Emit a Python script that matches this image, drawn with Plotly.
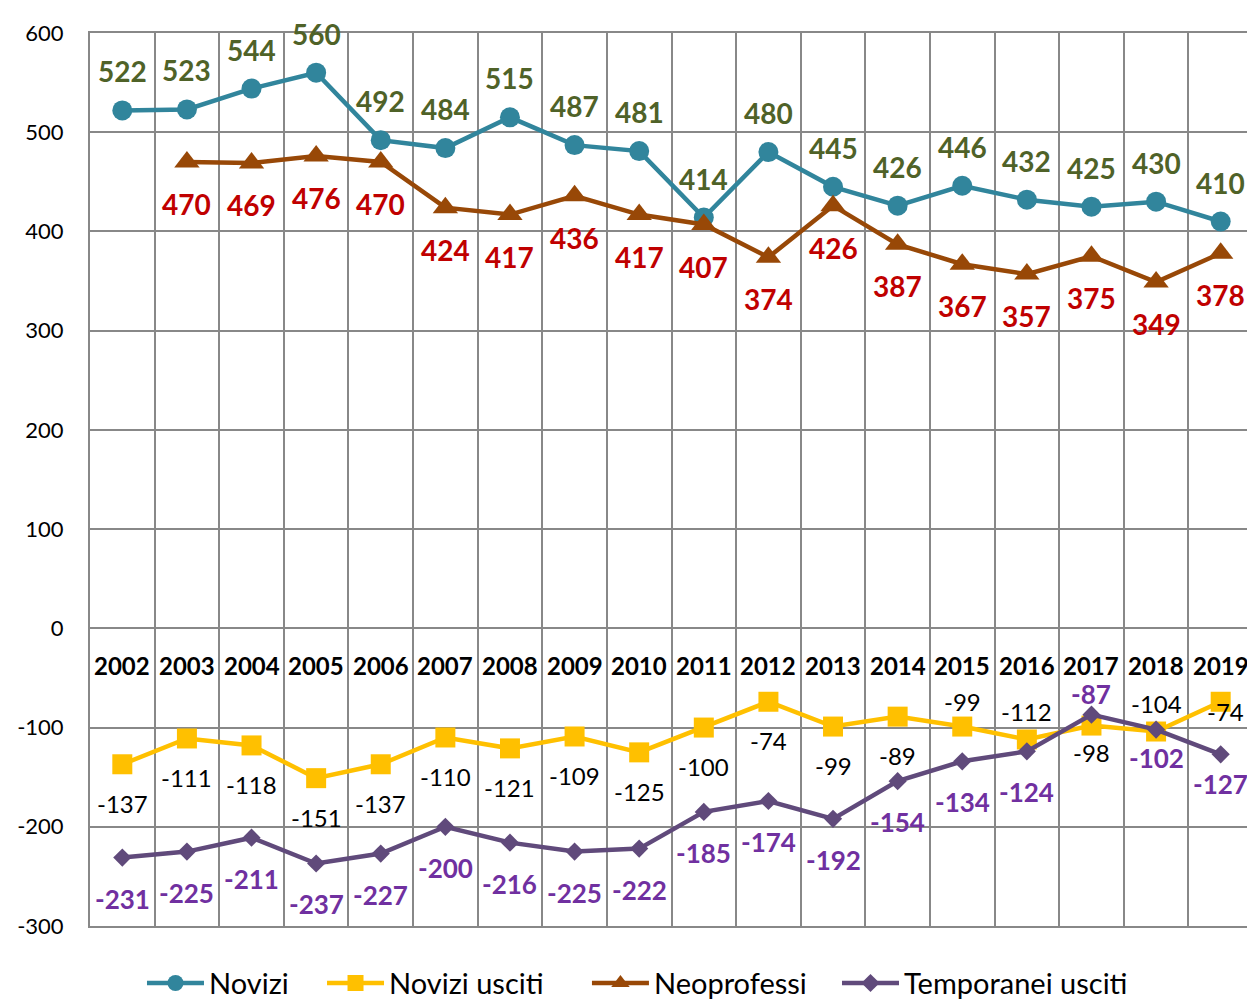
import plotly.graph_objects as go

years = ["2002", "2003", "2004", "2005", "2006", "2007", "2008", "2009", "2010",
         "2011", "2012", "2013", "2014", "2015", "2016", "2017", "2018", "2019"]
novizi = [522, 523, 544, 560, 492, 484, 515, 487, 481, 414, 480, 445, 426, 446, 432, 425, 430, 410]
novizi_usciti = [-137, -111, -118, -151, -137, -110, -121, -109, -125, -100, -74, -99, -89, -99, -112, -98, -104, -74]
neoprofessi = [None, 470, 469, 476, 470, 424, 417, 436, 417, 407, 374, 426, 387, 367, 357, 375, 349, 378]
temporanei_usciti = [-231, -225, -211, -237, -227, -200, -216, -225, -222, -185, -174, -192, -154, -134, -124, -87, -102, -127]
y_ticks = [-300, -200, -100, 0, 100, 200, 300, 400, 500, 600]

# label offsets in screen pixels (positive = below the point)
off_novizi = [-39] * 18
off_neo = [42] * 18
off_nu = [39] * 13 + [-25, -28, 27, -28, 10]
off_tu = [41] * 15 + [-21, 28, 30]
xoff_nu = [0] * 17 + [5]

# legend entry positions (paper x of each entry's left edge)
legend_x = [0.0447, 0.1995, 0.4273, 0.6423]

FONT = "Lato"
x = list(range(len(years)))

fig = go.Figure()

series = [
    ("Novizi", novizi, "#31859C", "circle", 20),
    ("Novizi usciti", novizi_usciti, "#FFC000", "square", 20),
    ("Neoprofessi", neoprofessi, "#984807", "triangle-up", 22),
    ("Temporanei usciti", temporanei_usciti, "#604A7B", "diamond", 14),
]
legend_ids = ["legend", "legend2", "legend3", "legend4"]
for (name, vals, col, sym, size), lid in zip(series, legend_ids):
    fig.add_trace(go.Scatter(
        x=x, y=vals, name=name, mode="lines+markers",
        line=dict(color=col, width=4.5),
        marker=dict(symbol=sym, size=size, color=col),
        connectgaps=False, legend=lid,
    ))

labels = [
    (novizi, off_novizi, None, "#4F6228", True, 28),
    (neoprofessi, off_neo, None, "#C00000", True, 28),
    (novizi_usciti, off_nu, xoff_nu, "#000000", False, 24),
    (temporanei_usciti, off_tu, None, "#7030A0", True, 26),
]
for vals, offs, xoffs, col, bold, fs in labels:
    for i, v in enumerate(vals):
        if v is None:
            continue
        txt = f"<b>{v}</b>" if bold else str(v)
        fig.add_annotation(x=i, y=v, text=txt, showarrow=False,
                           yshift=-offs[i], xshift=(xoffs[i] if xoffs else 0),
                           xanchor="center", yanchor="middle",
                           font=dict(family=FONT, size=fs, color=col))

for i, yr in enumerate(years):
    fig.add_annotation(x=i, y=0, text=f"<b>{yr}</b>", showarrow=False,
                       yshift=-37, xanchor="center", yanchor="middle",
                       font=dict(family=FONT, size=24, color="#000000"))

legend_style = dict(orientation="h", y=-0.064, yanchor="middle", xanchor="left",
                    font=dict(family=FONT, size=29, color="#000000"),
                    itemwidth=57, bgcolor="rgba(0,0,0,0)")
layout_legends = {lid: dict(x=lx, **legend_style) for lid, lx in zip(legend_ids, legend_x)}

fig.update_layout(
    width=1247, height=991,
    margin=dict(l=82, r=2, t=25, b=73, autoexpand=False),
    paper_bgcolor="white", plot_bgcolor="white",
    font=dict(family=FONT, color="#000000"),
    showlegend=True,
    **layout_legends,
)
fig.update_xaxes(range=[-0.5, 17.5], tickmode="linear", tick0=-0.5, dtick=1,
                 showticklabels=False, showgrid=True, gridcolor="#888888", gridwidth=2,
                 zeroline=False, showline=True, linecolor="#888888", linewidth=2, mirror=True)
fig.update_yaxes(range=[-300, 600], tickmode="array", tickvals=y_ticks,
                 ticktext=[str(t) for t in y_ticks],
                 showgrid=True, gridcolor="#888888", gridwidth=2, zeroline=False,
                 showline=True, linecolor="#888888", linewidth=2, mirror=True,
                 tickfont=dict(family=FONT, size=22, color="#000000"), ticks="", ticklabelstandoff=20)

fig.write_html("out.html")
